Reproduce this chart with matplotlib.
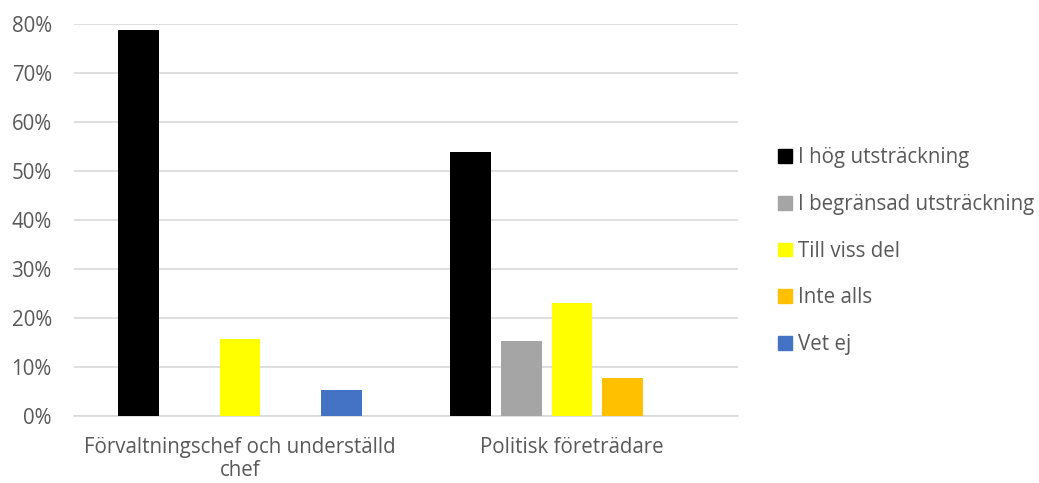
import matplotlib.pyplot as plt
import matplotlib.patches as mpatches
import numpy as np
from matplotlib.ticker import PercentFormatter

categories = ["Förvaltningschef och underställd\nchef", "Politisk företrädare"]
series = ["I hög utsträckning", "I begränsad utsträckning", "Till viss del", "Inte alls", "Vet ej"]
values = {
    "I hög utsträckning": [0.789, 0.538],
    "I begränsad utsträckning": [0.0, 0.154],
    "Till viss del": [0.158, 0.231],
    "Inte alls": [0.0, 0.077],
    "Vet ej": [0.053, 0.0],
}
colors = ["#000000", "#a5a5a5", "#ffff00", "#ffc000", "#4472c4"]

plt.rcParams['font.family'] = ['Open Sans', 'DejaVu Sans']
text_color = "#595959"
fs = 14.8

fig = plt.figure(figsize=(10.39, 4.83), dpi=100)
ax = fig.add_axes([0.0712, 0.1387, 0.6391, 0.8113])

x = np.arange(len(categories))
step = 0.1527
width = 0.122
for i, (name, col) in enumerate(zip(series, colors)):
    offs = (i - 2) * step
    ax.bar(x + offs, values[name], width=width, color=col, zorder=3)

ax.set_xlim(-0.5, 1.5)
ax.set_ylim(0, 0.8)
ax.set_yticks(np.arange(0, 0.81, 0.1))
ax.yaxis.set_major_formatter(PercentFormatter(1.0, decimals=0))
ax.grid(axis='y', color="#d9d9d9", linewidth=1.2, zorder=0)
ax.set_xticks(x)
ax.set_xticklabels(categories, fontsize=fs, color=text_color, linespacing=1.15)
ax.tick_params(axis='y', labelsize=fs, labelcolor=text_color, length=0, pad=16)
ax.tick_params(axis='x', length=0, pad=15)
for s in ["top", "right", "left"]:
    ax.spines[s].set_visible(False)
ax.spines["bottom"].set_color("#d9d9d9")
ax.spines["bottom"].set_linewidth(1.2)

handles = [mpatches.Patch(color=c, label=n) for n, c in zip(series, colors)]
leg = fig.legend(handles=handles, loc="center left", bbox_to_anchor=(0.749, 0.48),
                 frameon=False, fontsize=fs, labelspacing=1.25,
                 handlelength=0.65, handleheight=0.65, handletextpad=0.3,
                 borderpad=0, borderaxespad=0)
for t in leg.get_texts():
    t.set_color(text_color)

fig.savefig("out.png", dpi=100)
